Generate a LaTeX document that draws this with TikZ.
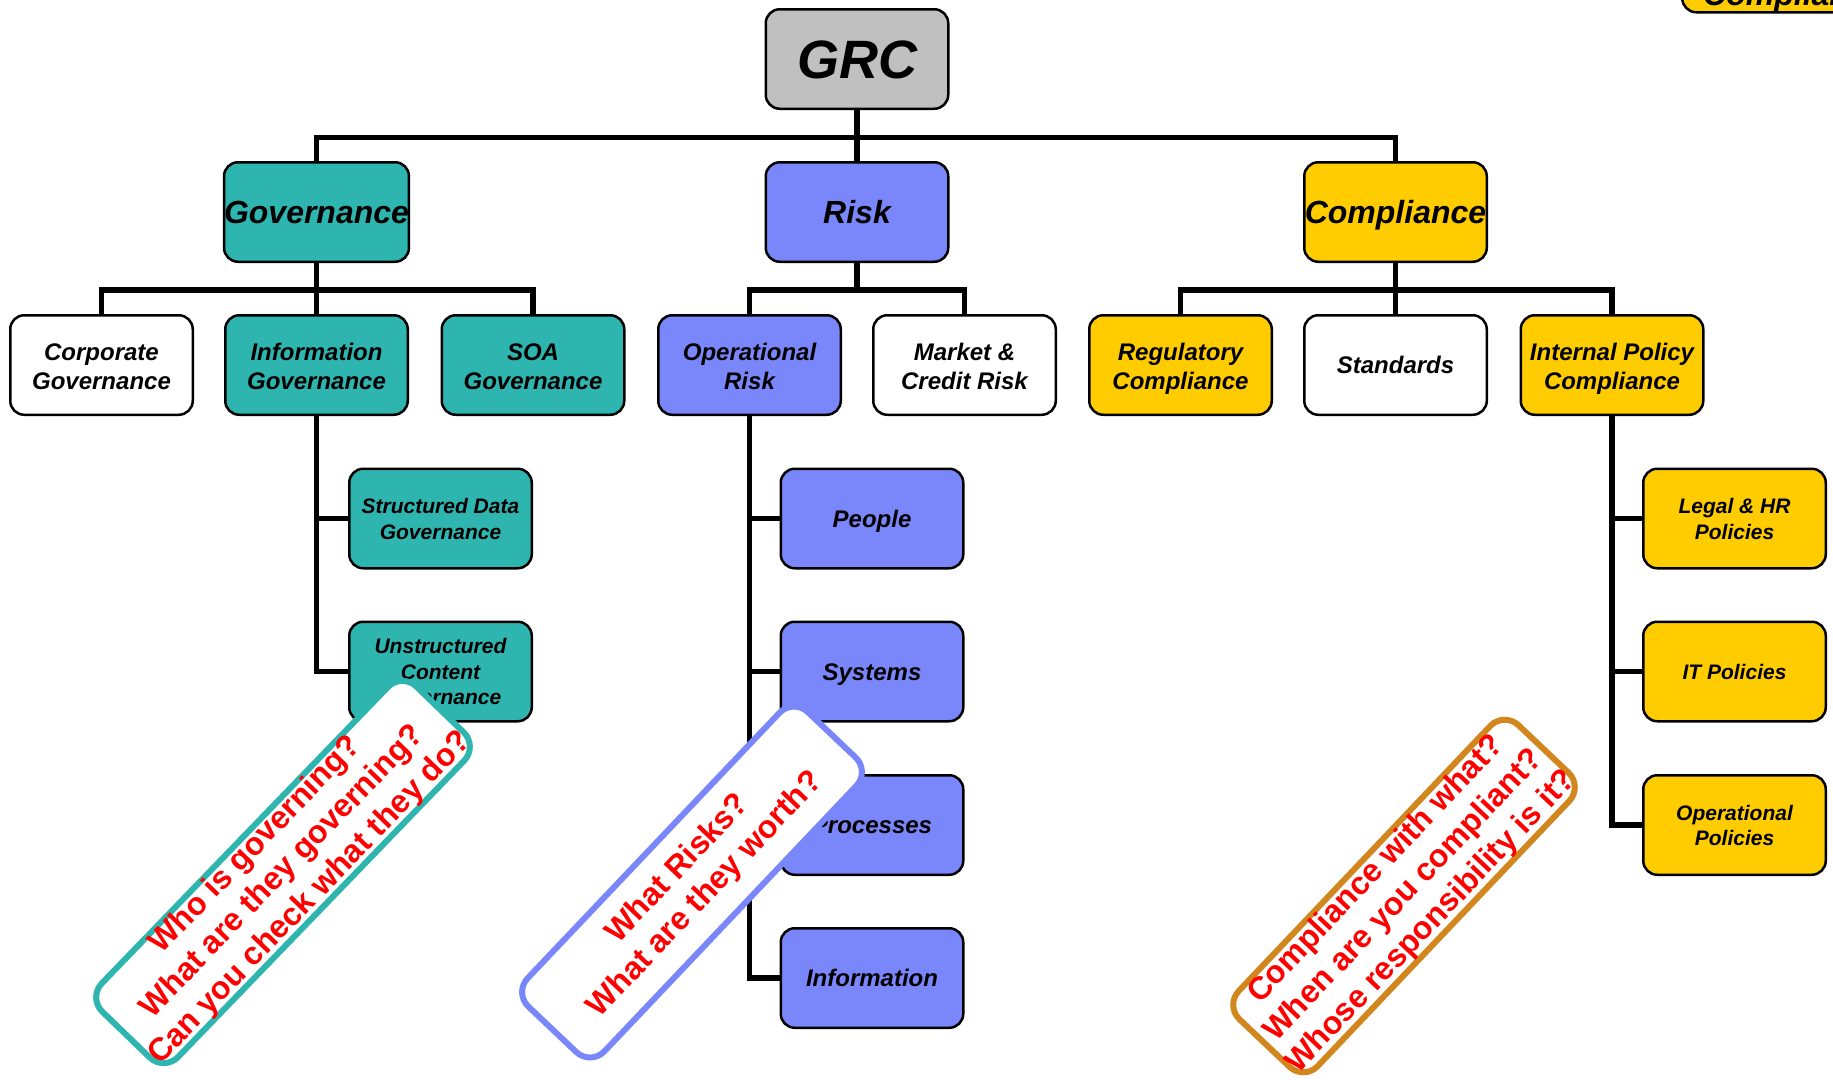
\documentclass[tikz,border=0pt]{standalone}
\usepackage{fontspec}
\setmainfont{Liberation Sans}
\definecolor{govC}{RGB}{46,181,176}
\definecolor{riskC}{RGB}{122,135,250}
\definecolor{compC}{RGB}{255,204,0}
\definecolor{grcC}{RGB}{192,192,192}
\definecolor{ambC}{RGB}{210,135,30}
% invisible struts that fix the height of the first line of a label
\newcommand\boxstrut{\rule{0pt}{1.1em}}
\newcommand\smallstrut{\rule{0pt}{1.0em}}
\begin{document}
\begin{tikzpicture}[x=1pt,y=-1pt,
  box/.style={draw=black, line width=2.5pt, rounded corners=14pt,
    minimum width=182.5pt, minimum height=99.5pt, inner sep=0pt, align=center,
    font=\fontsize{24pt}{28pt}\selectfont\bfseries\itshape,
    execute at begin node={\rule{0pt}{0.97em}},
    execute at end node={\rule[-0.25em]{0pt}{0.25em}}},
  grcbox/.style={box, fill=grcC, font=\fontsize{54pt}{60pt}\selectfont\bfseries\itshape},
  topbox/.style={box, font=\fontsize{32pt}{36pt}\selectfont\bfseries\itshape},
  twoline/.style={box, font=\fontsize{24pt}{29pt}\selectfont\bfseries\itshape},
  smallbox/.style={box, font=\fontsize{21pt}{25.5pt}\selectfont\bfseries\itshape},
  conn/.style={draw=black, line width=5.5pt, line join=miter},
  callout/.style={rounded corners=20pt, line width=6pt, fill=white, text=red,
    inner sep=0pt, align=center, font=\fontsize{32pt}{38pt}\selectfont\bfseries},
]
\useasboundingbox (0,0) rectangle (1833,1079);
\fill[white] (0,0) rectangle (1833,1079);
\clip (0,0) rectangle (1833,1079);

% box running off the top right corner
\node[draw=black, line width=2.5pt, rounded corners=14pt, fill=compC, minimum width=260pt,
  minimum height=100pt, anchor=south west] (edgebox) at (1681,13.5) {};
\node[anchor=base west, inner sep=0pt, font=\fontsize{32pt}{36pt}\selectfont\bfseries\itshape] (edgetext) at (1703,5) {Compliance};

% top of the tree
\node[grcbox] (grc) at (857,59) {GRC};
\node[topbox, fill=govC] (gov) at (316.5,212) {Governance};
\node[topbox, fill=riskC] (risk) at (857,212) {Risk};
\node[topbox, fill=compC] (comp) at (1395.5,212) {Compliance};

% second row
\node[twoline, fill=white] (corp) at (101.5,365) {\boxstrut Corporate\\Governance};
\node[twoline, fill=govC] (infogov) at (316.5,365) {\boxstrut Information\\Governance};
\node[twoline, fill=govC] (soa) at (533,365) {\boxstrut SOA\\Governance};
\node[twoline, fill=riskC] (oprisk) at (749.5,365) {\boxstrut Operational\\Risk};
\node[twoline, fill=white] (market) at (964.5,365) {\boxstrut Market \&\\Credit Risk};
\node[twoline, fill=compC] (reg) at (1180.5,365) {\boxstrut Regulatory\\Compliance};
\node[box, fill=white] (std) at (1395.5,365) {Standards};
\node[twoline, fill=compC] (ipc) at (1612,365) {\boxstrut Internal Policy\\Compliance};

% third level
\node[smallbox, fill=govC] (sdg) at (440.5,518.5) {\smallstrut Structured Data\\Governance};
\node[smallbox, fill=govC] (ucg) at (440.5,671.5) {\smallstrut Unstructured\\Content\\Governance};
\node[box, fill=riskC] (people) at (872,518.5) {People};
\node[box, fill=riskC] (systems) at (872,671.5) {Systems};
\node[box, fill=riskC] (processes) at (872,825) {Processes};
\node[box, fill=riskC] (information) at (872,978) {Information};
\node[smallbox, fill=compC] (legal) at (1734.5,518.5) {\smallstrut Legal \& HR\\Policies};
\node[smallbox, fill=compC] (itpol) at (1734.5,671.5) {IT Policies};
\node[smallbox, fill=compC] (oppol) at (1734.5,825) {\smallstrut Operational\\Policies};

% buses
\coordinate (b1) at (857,137.5);
\coordinate (b2) at (316.5,290);
\coordinate (b3) at (857,290);
\coordinate (b4) at (1395.5,290);

\draw[conn] (grc.south) -- (b1);
\draw[conn] (gov.north) |- (b1) -| (comp.north);
\draw[conn] (b1) -- (risk.north);

\draw[conn] (gov.south) -- (b2);
\draw[conn] (corp.north) |- (b2) -| (soa.north);
\draw[conn] (b2) -- (infogov.north);

\draw[conn] (risk.south) -- (b3);
\draw[conn] (oprisk.north) |- (b3) -| (market.north);

\draw[conn] (comp.south) -- (b4);
\draw[conn] (reg.north) |- (b4) -| (ipc.north);
\draw[conn] (b4) -- (std.north);

% spines
\draw[conn] (infogov.south) |- (ucg.west);
\draw[conn] (sdg.west) -- (sdg.west -| infogov.south);

\draw[conn] (oprisk.south) |- (information.west);
\draw[conn] (people.west) -- (people.west -| oprisk.south);
\draw[conn] (systems.west) -- (systems.west -| oprisk.south);
\draw[conn] (processes.west) -- (processes.west -| oprisk.south);

\draw[conn] (ipc.south) |- (oppol.west);
\draw[conn] (legal.west) -- (legal.west -| ipc.south);
\draw[conn] (itpol.west) -- (itpol.west -| ipc.south);

% question callouts
\node[callout, draw=govC, rotate=46, minimum width=452pt, minimum height=106pt] (qgov) at (283,872)
  {Who is governing?\\What are they governing?\\Can you check what they do?};
\node[callout, draw=riskC, rotate=46.5, minimum width=406pt, minimum height=106pt] (qrisk) at (692,882)
  {What Risks?\\What are they worth?};
\node[callout, draw=ambC, rotate=46.5, minimum width=401pt, minimum height=109pt] (qcomp) at (1404,896)
  {Compliance with what?\\When are you compliant?\\Whose responsibility is it?};
\end{tikzpicture}
\end{document}
